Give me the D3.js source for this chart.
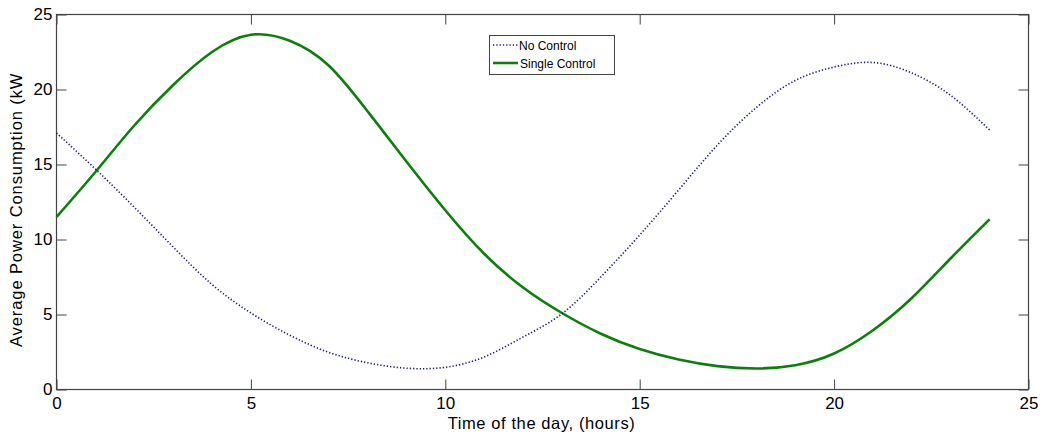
<!DOCTYPE html>
<html>
<head>
<meta charset="utf-8">
<script src="https://cdn.jsdelivr.net/npm/d3@7"></script>
<style>
  html, body { margin: 0; padding: 0; background: #fff; }
  svg { display: block; font-family: "Liberation Sans", Arial, Helvetica, sans-serif; }
</style>
</head>
<body>
<svg id="chart" width="1041" height="438"></svg>
<script>
// Data
const hours = [0,1,2,3,4,5,6,7,8,9,10,11,12,13,14,15,16,17,18,19,20,21,22,23,24];
const noControl = [17.1,14.7,12.15,9.5,7.0,5.1,3.62,2.48,1.78,1.42,1.48,2.17,3.5,5.05,7.5,10.3,13.3,16.3,18.8,20.6,21.5,21.8,21.1,19.6,17.3];
const singleControl = [11.5,14.5,17.6,20.3,22.5,23.65,23.25,21.6,18.55,15.2,11.95,9.05,6.8,5.1,3.72,2.7,2.0,1.56,1.4,1.62,2.4,3.95,6.1,8.75,11.35];
const xTicks = [0,5,10,15,20,25];
const yTicks = [0,5,10,15,20,25];
const seriesNames = ["No Control", "Single Control"];
const xLabel = "Time of the day, (hours)";
const yLabel = "Average Power Consumption (kW";

const svg = d3.select("#chart");
const mLeft = 56.5, mRight = 1028.5, mTop = 14.5, mBottom = 389.5;

const x = d3.scaleLinear().domain([0, 25]).range([mLeft, mRight]);
const y = d3.scaleLinear().domain([0, 25]).range([mBottom, mTop]);

const axisColor = "#444";
const tickLen = 10;

// Axes with inner ticks on all four sides
const gB = svg.append("g").attr("transform", `translate(0,${mBottom})`)
  .call(d3.axisBottom(x).tickValues(xTicks).tickSize(-tickLen).tickPadding(7).tickFormat(d3.format("d")));
const gT = svg.append("g").attr("transform", `translate(0,${mTop})`)
  .call(d3.axisTop(x).tickValues(xTicks).tickSize(-tickLen).tickFormat(""));
const gL = svg.append("g").attr("transform", `translate(${mLeft},0)`)
  .call(d3.axisLeft(y).tickValues(yTicks).tickSize(-tickLen).tickPadding(4).tickFormat(d3.format("d")));
const gR = svg.append("g").attr("transform", `translate(${mRight},0)`)
  .call(d3.axisRight(y).tickValues(yTicks).tickSize(-tickLen).tickFormat(""));

[gB, gT, gL, gR].forEach(g => {
  g.select(".domain").remove();
  g.selectAll(".tick line").attr("stroke", axisColor).attr("stroke-width", 1);
  g.selectAll(".tick text").attr("fill", "#000").style("font-size", "17px");
});
gB.selectAll(".tick text").attr("dy", "0.71em");

// Box
svg.append("rect")
  .attr("x", mLeft).attr("y", mTop)
  .attr("width", mRight - mLeft).attr("height", mBottom - mTop)
  .attr("fill", "none").attr("stroke", axisColor).attr("stroke-width", 1.2);

const line = d3.line().curve(d3.curveNatural);

const blueData = hours.map((h, i) => [x(h), y(noControl[i])]);
const greenData = hours.map((h, i) => [x(h), y(singleControl[i])]);

svg.append("path").attr("d", line(greenData))
  .attr("fill", "none").attr("stroke", "#0a7f0a").attr("stroke-width", 2.6);
svg.append("path").attr("d", line(blueData))
  .attr("fill", "none").attr("stroke", "#1a1a8c").attr("stroke-width", 1.6)
  .attr("stroke-dasharray", "1.3,2");

// Legend
const lg = svg.append("g");
lg.append("rect").attr("x", 489.5).attr("y", 35.5).attr("width", 125).attr("height", 39)
  .attr("fill", "#fff").attr("stroke", axisColor).attr("stroke-width", 1);
lg.append("line").attr("x1", 493).attr("x2", 518).attr("y1", 45).attr("y2", 45)
  .attr("stroke", "#1a1a8c").attr("stroke-width", 1.4).attr("stroke-dasharray", "1.3,2");
lg.append("line").attr("x1", 493).attr("x2", 518).attr("y1", 63).attr("y2", 63)
  .attr("stroke", "#0a7f0a").attr("stroke-width", 2.6);
lg.append("text").attr("x", 519).attr("y", 49.5).text(seriesNames[0]).style("font-size", "12px");
lg.append("text").attr("x", 520).attr("y", 67.5).text(seriesNames[1]).style("font-size", "12px");

// Axis labels
svg.append("text").attr("x", 541.5).attr("y", 429)
  .attr("text-anchor", "middle").style("font-size", "16.5px").style("letter-spacing", "0.6px").text(xLabel);
svg.append("text")
  .attr("transform", `translate(22,347) rotate(-90)`)
  .attr("text-anchor", "start").style("font-size", "16.5px").style("letter-spacing", "0.9px").text(yLabel);
</script>
</body>
</html>
